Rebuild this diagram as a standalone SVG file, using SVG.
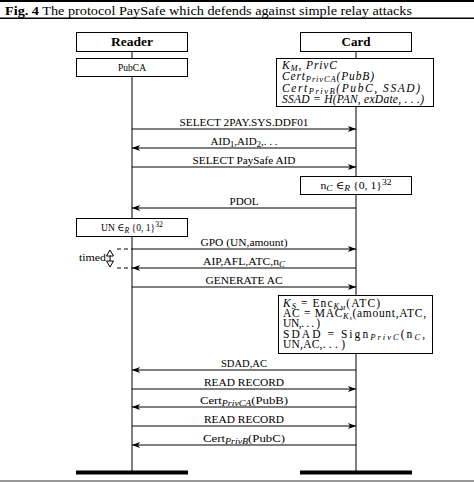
<svg xmlns="http://www.w3.org/2000/svg" width="474" height="482" viewBox="0 0 474 482">
<style>
text{font-family:"Liberation Serif","DejaVu Serif",serif;fill:#000}
.lbl{font-size:11px;text-anchor:middle}
.box{fill:#fff;stroke:#000;stroke-width:1}
.life{stroke:#000;stroke-width:1}
.msg{stroke:#000;stroke-width:1;fill:none}
.it{font-style:italic}
.sub{font-size:8.5px}
.ss{font-size:6px}
.bar{fill:#000}
.mt{font-size:11.5px}
</style>
<defs>
<marker id="ah" markerWidth="9" markerHeight="7" refX="8" refY="3.5" orient="auto" markerUnits="userSpaceOnUse">
<path d="M0,0.5 L8,3.5 L0,6.5 L2,3.5 z" fill="#000"/>
</marker>
</defs>
<rect x="0" y="0" width="474" height="2" fill="#000"/>
<text x="5" y="14.5" font-size="13.5" textLength="407" lengthAdjust="spacingAndGlyphs"><tspan font-weight="bold">Fig. 4</tspan> The protocol PaySafe which defends against simple relay attacks</text>
<rect x="0" y="17.5" width="474" height="1.5" fill="#000"/>
<rect x="0" y="480" width="474" height="2" fill="#999"/>

<g id="lifelines">
<line class="life" x1="132" y1="51" x2="132" y2="472"/>
<line class="life" x1="356" y1="51" x2="356" y2="472"/>
<rect class="bar" x="76" y="470.5" width="112" height="4"/>
<rect class="bar" x="300" y="470.5" width="112" height="4"/>
</g>

<g id="reader">
<rect class="box" x="76.5" y="32.5" width="111" height="19"/>
<text x="132" y="46" font-size="12" font-weight="bold" text-anchor="middle" textLength="42" lengthAdjust="spacingAndGlyphs">Reader</text>
</g>
<g id="card">
<rect class="box" x="300.5" y="32.5" width="111" height="19"/>
<text x="356" y="46" font-size="12" font-weight="bold" text-anchor="middle" textLength="29" lengthAdjust="spacingAndGlyphs">Card</text>
</g>
<g id="pubca">
<rect class="box" x="76.5" y="58.5" width="111" height="18"/>
<text x="132" y="71" font-size="9.5" text-anchor="middle" textLength="28" lengthAdjust="spacingAndGlyphs">PubCA</text>
</g>
<g id="cardkeys">
<rect class="box" x="276.5" y="58.5" width="157" height="48"/>
<text x="282" y="68.5" class="it mt" textLength="55" lengthAdjust="spacing">K<tspan class="sub" dy="2">M</tspan><tspan dy="-2">, PrivC</tspan></text>
<text x="282" y="80" class="it mt" textLength="92" lengthAdjust="spacing">Cert<tspan class="sub" dy="2">PrivCA</tspan><tspan dy="-2">(PubB)</tspan></text>
<text x="282" y="91.5" class="it mt" textLength="138" lengthAdjust="spacing">Cert<tspan class="sub" dy="2">PrivB</tspan><tspan dy="-2">(PubC, SSAD)</tspan></text>
<text x="282" y="102.5" class="it mt" textLength="142" lengthAdjust="spacing">SSAD = H(PAN, exDate, . . .)</text>
</g>
<g id="ncbox">
<rect class="box" x="300.5" y="176.5" width="111" height="18"/>
<text x="356" y="189" font-size="10.5" text-anchor="middle" textLength="71" lengthAdjust="spacingAndGlyphs">n<tspan class="sub it" dy="2">C</tspan><tspan dy="-2"> ∈</tspan><tspan class="sub it" dy="2">R</tspan><tspan dy="-2"> {0, 1}</tspan><tspan class="sub" dy="-4">32</tspan></text>
</g>
<g id="unbox">
<rect class="box" x="76.5" y="218.5" width="111" height="18"/>
<text x="132" y="231" font-size="10.5" text-anchor="middle" textLength="62" lengthAdjust="spacingAndGlyphs">UN ∈<tspan class="sub it" dy="2">R</tspan><tspan dy="-2"> {0, 1}</tspan><tspan class="sub" dy="-4">32</tspan></text>
</g>
<g id="acbox">
<rect class="box" x="278.5" y="295.5" width="154" height="58"/>
<text x="283" y="306.5" class="mt" textLength="97" lengthAdjust="spacing"><tspan class="it">K</tspan><tspan class="sub it" dy="2">S</tspan><tspan dy="-2"> = Enc</tspan><tspan class="sub it" dy="2">K</tspan><tspan class="ss it" dy="1">M</tspan><tspan dy="-3">(ATC)</tspan></text>
<text x="283" y="317" class="mt" textLength="143" lengthAdjust="spacing">AC = MAC<tspan class="sub it" dy="2">K</tspan><tspan class="ss it" dy="1">s</tspan><tspan dy="-3">(amount,ATC,</tspan></text>
<text x="283" y="327" class="mt" textLength="37" lengthAdjust="spacing">UN,. . . )</text>
<text x="283" y="337.5" class="mt" textLength="142" lengthAdjust="spacing">SDAD = Sign<tspan class="sub it" dy="2">PrivC</tspan><tspan dy="-2">(n</tspan><tspan class="sub it" dy="2">C</tspan><tspan dy="-2">,</tspan></text>
<text x="283" y="347.5" class="mt" textLength="62" lengthAdjust="spacing">UN,AC,. . . )</text>
</g>
<g id="timed">
<line x1="117" y1="249" x2="132" y2="249" stroke="#000" stroke-dasharray="4,3"/>
<line x1="117" y1="268" x2="132" y2="268" stroke="#000" stroke-dasharray="4,3"/>
<line x1="110" y1="256" x2="110" y2="261" stroke="#000" stroke-width="1"/>
<path d="M110,250 L106.5,256 L113.5,256 z" fill="#fff" stroke="#000"/>
<path d="M110,267 L106.5,261 L113.5,261 z" fill="#fff" stroke="#000"/>
<text x="79" y="261" font-size="10.5" textLength="27" lengthAdjust="spacingAndGlyphs">timed</text>
</g>

<g id="connectors">
<line class="msg" x1="132" y1="129" x2="356" y2="129" marker-end="url(#ah)"/>
<text class="lbl" x="244" y="125.5" textLength="129" lengthAdjust="spacingAndGlyphs">SELECT 2PAY.SYS.DDF01</text>
<line class="msg" x1="356" y1="148" x2="132" y2="148" marker-end="url(#ah)"/>
<text class="lbl" x="244" y="144.5" textLength="67" lengthAdjust="spacingAndGlyphs">AID<tspan class="sub" dy="2">1</tspan><tspan dy="-2">,AID</tspan><tspan class="sub" dy="2">2</tspan><tspan dy="-2">,. . .</tspan></text>
<line class="msg" x1="132" y1="167" x2="356" y2="167" marker-end="url(#ah)"/>
<text class="lbl" x="244" y="163.5" textLength="103" lengthAdjust="spacingAndGlyphs">SELECT PaySafe AID</text>
<line class="msg" x1="356" y1="208" x2="132" y2="208" marker-end="url(#ah)"/>
<text class="lbl" x="244" y="204.5" textLength="29" lengthAdjust="spacingAndGlyphs">PDOL</text>
<line class="msg" x1="132" y1="249" x2="356" y2="249" marker-end="url(#ah)"/>
<text class="lbl" x="244" y="245.5" textLength="87" lengthAdjust="spacingAndGlyphs">GPO (UN,amount)</text>
<line class="msg" x1="356" y1="268" x2="132" y2="268" marker-end="url(#ah)"/>
<text class="lbl" x="244" y="264.5" textLength="82" lengthAdjust="spacingAndGlyphs">AIP,AFL,ATC,n<tspan class="sub it" dy="2">C</tspan></text>
<line class="msg" x1="132" y1="287" x2="356" y2="287" marker-end="url(#ah)"/>
<text class="lbl" x="244" y="283.5" textLength="77" lengthAdjust="spacingAndGlyphs">GENERATE AC</text>
<line class="msg" x1="356" y1="370" x2="132" y2="370" marker-end="url(#ah)"/>
<text class="lbl" x="244" y="366.5" textLength="46" lengthAdjust="spacingAndGlyphs">SDAD,AC</text>
<line class="msg" x1="132" y1="389" x2="356" y2="389" marker-end="url(#ah)"/>
<text class="lbl" x="244" y="385.5" textLength="80" lengthAdjust="spacingAndGlyphs">READ RECORD</text>
<line class="msg" x1="356" y1="407" x2="132" y2="407" marker-end="url(#ah)"/>
<text class="lbl" x="244" y="403.5" textLength="88" lengthAdjust="spacingAndGlyphs">Cert<tspan class="sub it" dy="2">PrivCA</tspan><tspan dy="-2">(PubB)</tspan></text>
<line class="msg" x1="132" y1="426" x2="356" y2="426" marker-end="url(#ah)"/>
<text class="lbl" x="244" y="422.5" textLength="80" lengthAdjust="spacingAndGlyphs">READ RECORD</text>
<line class="msg" x1="356" y1="445" x2="132" y2="445" marker-end="url(#ah)"/>
<text class="lbl" x="244" y="441.5" textLength="82" lengthAdjust="spacingAndGlyphs">Cert<tspan class="sub it" dy="2">PrivB</tspan><tspan dy="-2">(PubC)</tspan></text>
</g>
</svg>
